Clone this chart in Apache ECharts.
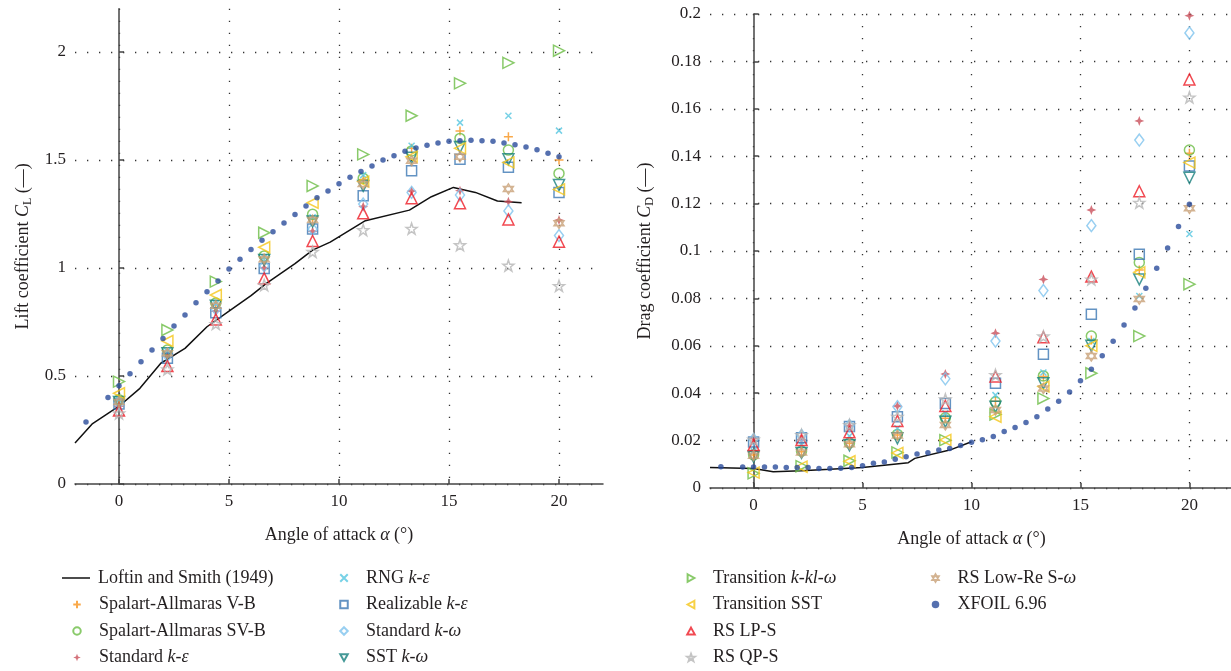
<!DOCTYPE html>
<html lang="en" style="height: 100%">
<head>
  <meta charset="utf-8">
</head>
<body style="height: 100%; margin: 0; background: #fff">
  <div id="container" style="width: 1231px; height: 671px"></div>
  <script type="text/javascript" src="https://cdn.jsdelivr.net/npm/echarts@6/dist/echarts.min.js"></script>

  <script type="text/javascript">
    // angles of attack of the CFD runs
    var alpha = [0, 2.2, 4.4, 6.6, 8.8, 11.1, 13.3, 15.5, 17.7, 20];

    // lift coefficient, one array per model
    var saVB_CL = [0.385, 0.61, 0.83, 1.045, 1.225, 1.41, 1.554, 1.634, 1.608, 1.50];
    var saSVB_CL = [0.39, 0.62, 0.838, 1.056, 1.249, 1.415, 1.542, 1.60, 1.546, 1.438];
    var stdKe_CL = [0.36, 0.59, 0.80, 1.00, 1.17, 1.284, 1.356, 1.358, 1.307, 1.222];
    var rngKe_CL = [0.39, 0.615, 0.835, 1.05, 1.235, 1.43, 1.566, 1.673, 1.705, 1.636];
    var realKe_CL = [0.37, 0.582, 0.793, 0.998, 1.181, 1.335, 1.45, 1.503, 1.466, 1.349];
    var stdKw_CL = [0.375, 0.595, 0.81, 1.01, 1.18, 1.296, 1.35, 1.338, 1.264, 1.15];
    var sstKw_CL = [0.38, 0.605, 0.825, 1.037, 1.215, 1.38, 1.51, 1.56, 1.503, 1.384];
    var trKklw_CL = [0.474, 0.713, 0.937, 1.163, 1.38, 1.526, 1.705, 1.855, 1.95, 2.006];
    var trSST_CL = [0.42, 0.662, 0.875, 1.096, 1.302, 1.40, 1.515, 1.554, 1.489, 1.364];
    var rsLPS_CL = [0.34, 0.546, 0.762, 0.952, 1.125, 1.253, 1.323, 1.30, 1.225, 1.122];
    var rsQPS_CL = [0.327, 0.531, 0.741, 0.921, 1.075, 1.176, 1.182, 1.106, 1.011, 0.917];
    var rsLowRe_CL = [0.38, 0.605, 0.825, 1.04, 1.222, 1.389, 1.497, 1.515, 1.366, 1.207];

    // drag coefficient, one array per model
    var saVB_CD = [0.0139, 0.0153, 0.0189, 0.0224, 0.0294, 0.0366, 0.047, 0.0624, 0.092, 0.1412];
    var saSVB_CD = [0.014, 0.0155, 0.019, 0.0226, 0.0296, 0.0364, 0.0473, 0.0641, 0.0952, 0.1426];
    var stdKe_CD = [0.021, 0.0205, 0.0262, 0.0346, 0.0481, 0.0653, 0.088, 0.1173, 0.1549, 0.1993];
    var rngKe_CD = [0.0157, 0.0183, 0.0219, 0.0252, 0.0315, 0.0392, 0.0487, 0.062, 0.081, 0.1072];
    var realKe_CD = [0.0194, 0.0212, 0.026, 0.0301, 0.0357, 0.0442, 0.0564, 0.0733, 0.0986, 0.1359];
    var stdKw_CD = [0.0205, 0.0222, 0.0264, 0.0343, 0.0461, 0.062, 0.0833, 0.1107, 0.1468, 0.192];
    var sstKw_CD = [0.0132, 0.0148, 0.018, 0.021, 0.028, 0.0343, 0.0442, 0.060, 0.088, 0.1309];
    var trKklw_CD = [0.0062, 0.0092, 0.0115, 0.015, 0.0202, 0.031, 0.0378, 0.0484, 0.0641, 0.086];
    var trSST_CD = [0.0065, 0.009, 0.0113, 0.0148, 0.0203, 0.0301, 0.0428, 0.060, 0.091, 0.1373];
    var rsLPS_CD = [0.0181, 0.0203, 0.0235, 0.0283, 0.0346, 0.047, 0.0636, 0.0892, 0.1252, 0.1724];
    var rsQPS_CD = [0.0205, 0.0224, 0.0266, 0.0301, 0.0374, 0.0477, 0.064, 0.088, 0.1204, 0.1648];
    var rsLowRe_CD = [0.0136, 0.015, 0.0185, 0.0222, 0.0266, 0.0329, 0.042, 0.0557, 0.0797, 0.118];

    // XFOIL 6.96 polar
    var xfoilAlpha = [-1.5, -0.5, 0, 0.5, 1, 1.5, 2, 2.5, 3, 3.5, 4, 4.5, 5, 5.5, 6, 6.5, 7, 7.5, 8, 8.5, 9, 9.5,
      10, 10.5, 11, 11.5, 12, 12.5, 13, 13.5, 14, 14.5, 15, 15.5, 16, 16.5, 17, 17.5, 18, 18.5, 19, 19.5, 20];
    var xfoilCL = [0.287, 0.40, 0.455, 0.51, 0.566, 0.62, 0.674, 0.731, 0.782, 0.839, 0.89, 0.94, 0.995, 1.04,
      1.086, 1.128, 1.168, 1.208, 1.248, 1.287, 1.325, 1.356, 1.39, 1.42, 1.447, 1.472, 1.50, 1.52, 1.54,
      1.556, 1.568, 1.579, 1.587, 1.589, 1.591, 1.589, 1.587, 1.579, 1.571, 1.56, 1.548, 1.531, 1.515];
    var xfoilCD = [0.009, 0.0089, 0.0089, 0.0089, 0.0089, 0.0087, 0.0087, 0.0086, 0.0082, 0.0082, 0.0083,
      0.0087, 0.0094, 0.0104, 0.011, 0.0121, 0.0132, 0.0143, 0.0149, 0.016, 0.0167, 0.0179, 0.0193, 0.0204,
      0.0217, 0.0238, 0.0255, 0.0276, 0.0301, 0.0333, 0.0366, 0.0405, 0.0453, 0.0501, 0.0558, 0.0619,
      0.0688, 0.076, 0.0843, 0.0927, 0.1013, 0.1103, 0.1197];

    // Loftin and Smith (1949) experiment
    var expAlphaCL = [-2, -1.2, 0, 0.95, 1.9, 3, 4, 5, 6, 6.7, 8, 8.8, 9.6, 11.2, 13.2, 14.2, 15.2, 16.2, 17.2, 18.3];
    var expCL = [0.19, 0.28, 0.36, 0.443, 0.559, 0.628, 0.728, 0.80, 0.872, 0.929, 1.02, 1.083, 1.12, 1.219,
      1.268, 1.33, 1.373, 1.35, 1.31, 1.302];
    var expAlphaCD = [-2, 0, 0.9, 2.2, 3.5, 5, 7.1, 7.4, 9, 10];
    var expCD = [0.0086, 0.0082, 0.0069, 0.0073, 0.0079, 0.0086, 0.0107, 0.0125, 0.016, 0.0195];

    var xTicks = [0, 5, 10, 15, 20];
    var clTicks = [0, 0.5, 1, 1.5, 2];
    var cdTicks = [0, 0.02, 0.04, 0.06, 0.08, 0.1, 0.12, 0.14, 0.16, 0.18, 0.2];

    var FONT = '"Liberation Serif", "DejaVu Serif", serif';

    var models = [
      { name: 'Spalart-Allmaras V-B', cl: saVB_CL, cd: saVB_CD, color: '#f7941d', symbol: 'path://M5,0L5,10M0,5L10,5', size: 9, fill: false },
      { name: 'Spalart-Allmaras SV-B', cl: saSVB_CL, cd: saSVB_CD, color: '#6cbd45', symbol: 'circle', size: 10, fill: false },
      { name: 'Standard k-ε', cl: stdKe_CL, cd: stdKe_CD, color: '#c9505b', symbol: 'path://M5,0L6.4,3.6L10,5L6.4,6.4L5,10L3.6,6.4L0,5L3.6,3.6Z', size: 10, fill: true },
      { name: 'RNG k-ε', cl: rngKe_CL, cd: rngKe_CD, color: '#55c5e0', symbol: 'path://M0,0L10,10M0,10L10,0', size: 6, fill: false },
      { name: 'Realizable k-ε', cl: realKe_CL, cd: realKe_CD, color: '#3c78b4', symbol: 'rect', size: 10, fill: false },
      { name: 'Standard k-ω', cl: stdKw_CL, cd: stdKw_CD, color: '#7ec3ee', symbol: 'diamond', size: [9, 12], fill: false },
      { name: 'SST k-ω', cl: sstKw_CL, cd: sstKw_CD, color: '#16807d', symbol: 'path://M0,0L10,0L5,9Z', size: 11, fill: false },
      { name: 'Transition k-kl-ω', cl: trKklw_CL, cd: trKklw_CD, color: '#6cbd45', symbol: 'path://M0,0L9,5L0,10Z', size: 11, fill: false },
      { name: 'Transition SST', cl: trSST_CL, cd: trSST_CD, color: '#f5c518', symbol: 'path://M9,0L0,5L9,10Z', size: 11, fill: false },
      { name: 'RS LP-S', cl: rsLPS_CL, cd: rsLPS_CD, color: '#ee1c25', symbol: 'path://M5,0L10,9L0,9Z', size: 11, fill: false },
      { name: 'RS QP-S', cl: rsQPS_CL, cd: rsQPS_CD, color: '#b5b5b5', symbol: 'path://M5,0L6.2,3.4L9.8,3.5L6.9,5.7L8,9.2L5,7.1L2,9.2L3.1,5.7L0.2,3.5L3.8,3.4Z', size: 11, fill: false },
      { name: 'RS Low-Re S-ω', cl: rsLowRe_CL, cd: rsLowRe_CD, color: '#c8a077', symbol: 'path://M5,0L9.33,7.5L0.67,7.5Z M5,10L0.67,2.5L9.33,2.5Z', size: 10, fill: false }
    ];

    function pairs(xs, ys) {
      return xs.map(function (x, i) { return [x, ys[i]]; });
    }

    function italicName(name) {
      return name.replace(/k-kl-ω|k-ε|k-ω|ω/g, function (m) { return '{i|' + m + '}'; });
    }

    var richText = {
      i: { fontFamily: FONT, fontSize: 18, fontStyle: 'italic', color: '#231f20' }
    };

    var series = [];
    ['cl', 'cd'].forEach(function (key, g) {
      series.push({
        name: 'Loftin and Smith (1949)',
        type: 'line',
        xAxisIndex: g,
        yAxisIndex: g,
        data: g === 0 ? pairs(expAlphaCL, expCL) : pairs(expAlphaCD, expCD),
        showSymbol: false,
        symbol: 'none',
        lineStyle: { color: '#111', width: 1.5 },
        itemStyle: { color: '#111' },
        z: 2
      });
      models.forEach(function (m) {
        series.push({
          name: m.name,
          type: 'scatter',
          xAxisIndex: g,
          yAxisIndex: g,
          data: pairs(alpha, m[key]),
          symbol: m.symbol,
          symbolSize: m.size,
          itemStyle: m.fill
            ? { color: m.color, borderWidth: 0 }
            : { color: 'rgba(255,255,255,0)', borderColor: m.color, borderWidth: 1.5 },
          z: 3
        });
      });
      series.push({
        name: 'XFOIL 6.96',
        type: 'scatter',
        xAxisIndex: g,
        yAxisIndex: g,
        data: g === 0 ? pairs(xfoilAlpha, xfoilCL) : pairs(xfoilAlpha, xfoilCD),
        symbol: 'circle',
        symbolSize: 5.5,
        itemStyle: { color: '#2b4c9b' },
        z: 4
      });
    });

    function xAxisFor(g) {
      return {
        type: 'value',
        gridIndex: g,
        min: -2,
        max: 22,
        name: 'Angle of attack {i|α} (°)',
        nameLocation: 'middle',
        nameGap: 42,
        nameTextStyle: { fontFamily: FONT, fontSize: 18, color: '#231f20', rich: richText },
        axisLine: { show: true, onZero: false, lineStyle: { color: '#444', width: 1.5 } },
        axisTick: { show: true, inside: true, length: 5, customValues: xTicks, lineStyle: { color: '#444', width: 1.5 } },
        axisLabel: { customValues: xTicks, margin: 9, fontFamily: FONT, fontSize: 17, color: '#231f20' },
        splitLine: { show: true, lineStyle: { color: '#333', width: 1.3, type: [1.3, 10.7] } }
      };
    }

    function yAxisFor(g) {
      var ticks = g === 0 ? clTicks : cdTicks;
      return {
        type: 'value',
        gridIndex: g,
        min: 0,
        max: g === 0 ? 2.2 : 0.2,
        name: g === 0 ? 'Lift coefficient {i|C}{s|L} (—)' : 'Drag coefficient {i|C}{s|D} (—)',
        nameLocation: 'middle',
        nameGap: g === 0 ? 41 : 54,
        nameTextStyle: {
          fontFamily: FONT, fontSize: 18, color: '#231f20', lineHeight: 22,
          rich: {
            i: { fontFamily: FONT, fontSize: 18, fontStyle: 'italic', color: '#231f20', lineHeight: 22 },
            s: { fontFamily: FONT, fontSize: 12, color: '#231f20', verticalAlign: 'bottom', lineHeight: 22 }
          }
        },
        axisLine: { show: true, lineStyle: { color: '#444', width: 1.5 } },
        axisTick: { show: true, inside: true, length: 5, customValues: ticks, lineStyle: { color: '#444', width: 1.5 } },
        axisLabel: {
          customValues: ticks,
          margin: 9,
          fontFamily: FONT,
          fontSize: 17,
          color: '#231f20',
          formatter: function (v) { return String(+v.toFixed(3)); }
        },
        splitLine: { show: true, lineStyle: { color: '#333', width: 1.3, type: [1.3, 10.7] } }
      };
    }

    // one legend block per column; icon centre at iconX, first row centred at rowY
    function legendFor(names, iconX, rowY, isLine) {
      var w = isLine ? 28 : 7.5;
      return {
        data: names.map(function (n) {
          return isLine ? { name: n, icon: 'rect' } : { name: n };
        }),
        orient: 'vertical',
        left: iconX - w / 2,
        top: rowY - 9,
        padding: 0,
        itemWidth: w,
        itemHeight: isLine ? 1.5 : 7.5,
        itemGap: 8.5,
        selectedMode: false,
        formatter: italicName,
        textStyle: {
          fontFamily: FONT, fontSize: 18, color: '#231f20', lineHeight: 18,
          padding: [0, 0, 0, isLine ? 3 : 13.25], rich: richText
        }
      };
    }

    var dom = document.getElementById('container');
    var myChart = echarts.init(dom, null, { renderer: 'canvas' });

    var option = {
      animation: false,
      backgroundColor: '#fff',
      grid: [
        { left: 75, top: 8.8, width: 528, height: 475.2, outerBoundsMode: 'none', containLabel: false },
        { left: 710, top: 14, width: 523, height: 474, outerBoundsMode: 'none', containLabel: false }
      ],
      xAxis: [xAxisFor(0), xAxisFor(1)],
      yAxis: [yAxisFor(0), yAxisFor(1)],
      legend: [
        legendFor(['Loftin and Smith (1949)'], 76, 578, true),
        legendFor(['Spalart-Allmaras V-B', 'Spalart-Allmaras SV-B', 'Standard k-ε'], 76, 604.5, false),
        legendFor(['RNG k-ε', 'Realizable k-ε', 'Standard k-ω', 'SST k-ω'], 343, 578, false),
        legendFor(['Transition k-kl-ω', 'Transition SST', 'RS LP-S', 'RS QP-S'], 690, 578, false),
        legendFor(['RS Low-Re S-ω', 'XFOIL 6.96'], 935, 578, false)
      ],
      series: series
    };

    myChart.setOption(option);
    window.addEventListener('resize', myChart.resize);
  </script>
</body>
</html>
